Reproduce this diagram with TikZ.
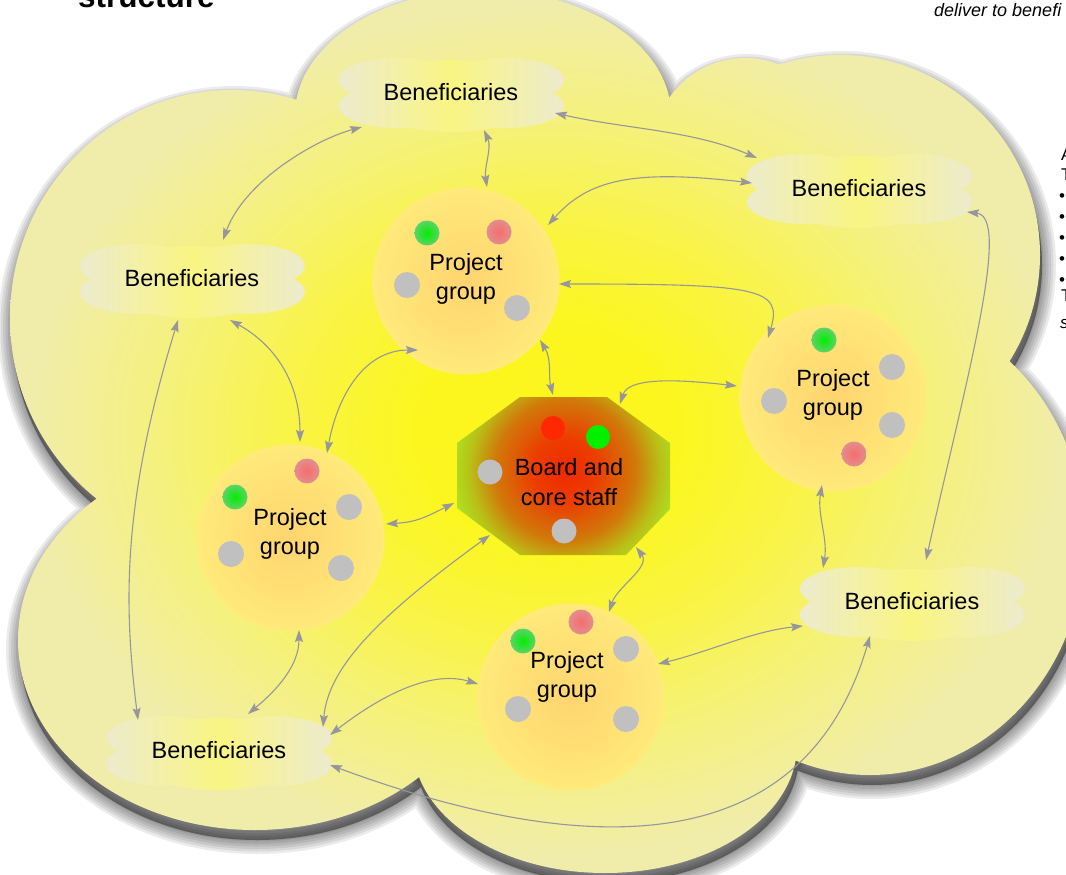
\documentclass[tikz,border=0pt]{standalone}
\usepackage{fontspec}
\setmainfont{Liberation Sans}
\usetikzlibrary{arrows.meta,calc,shapes.geometric}
\definecolor{bgA}{RGB}{252,246,30}
\definecolor{bgA2}{RGB}{249,244,70}
\definecolor{bgB}{RGB}{245,241,125}
\definecolor{bgC}{RGB}{240,237,170}
\definecolor{pgA}{RGB}{255,212,112}
\definecolor{pgB}{RGB}{255,234,122}
\definecolor{bdA}{RGB}{240,40,0}
\definecolor{bdA2}{RGB}{236,62,0}
\definecolor{bdB}{RGB}{208,122,10}
\definecolor{bdB2}{RGB}{186,190,22}
\definecolor{bdC}{RGB}{172,226,34}
\definecolor{bnE}{RGB}{237,235,206}
\definecolor{bnM}{RGB}{249,245,130}
\definecolor{lnC}{RGB}{150,150,156}
\definecolor{dgray}{RGB}{192,192,192}
\definecolor{gnA}{RGB}{0,238,0}
\definecolor{gnB}{RGB}{95,210,105}
\definecolor{pkA}{RGB}{248,108,108}
\definecolor{pkB}{RGB}{226,142,142}
\definecolor{rdF}{RGB}{255,40,0}
\definecolor{grF}{RGB}{0,240,0}
% note: 25bp of a radial shading corresponds to the half size of the shaded path's box
\pgfdeclareradialshading{bgsh}{\pgfpoint{0bp}{0bp}}{color(0bp)=(bgA); color(6bp)=(bgA); color(12bp)=(bgA2); color(18bp)=(bgB); color(24bp)=(bgC); color(50bp)=(bgC)}
\pgfdeclareradialshading{pgsh}{\pgfpoint{0bp}{0bp}}{color(0bp)=(pgA); color(25bp)=(pgB); color(50bp)=(pgB)}
\pgfdeclareradialshading{bdsh}{\pgfpoint{0bp}{0bp}}{color(0bp)=(bdA); color(7bp)=(bdA2); color(15bp)=(bdB); color(20bp)=(bdB2); color(24bp)=(bdC); color(50bp)=(bdC)}
\tikzset{
  bigcloud/.style={insert path={
    (483,115) ellipse [x radius=188, y radius=125]
    (745,150) ellipse [x radius=92, y radius=92]
    (840,255) ellipse [x radius=200, y radius=200]
    (870,540) ellipse [x radius=215, y radius=235]
    (605,745) ellipse [x radius=192, y radius=128]
    (255,640) ellipse [x radius=237, y radius=190]
    (232,318) ellipse [x radius=222, y radius=228]
    (560,440) ellipse [x radius=380, y radius=300]}},
  bcloud/.style={insert path={
    (-55,-12) ellipse [x radius=57, y radius=22]
    (-55,14) ellipse [x radius=57, y radius=22]
    (55,-12) ellipse [x radius=58, y radius=22]
    (55,14) ellipse [x radius=58, y radius=22]
    (0,-10) ellipse [x radius=80, y radius=22]
    (0,12) ellipse [x radius=80, y radius=28]}},
  pgroup/.style={circle, inner sep=0pt, outer sep=0pt, minimum size=187pt, shade, shading=pgsh},
  txt/.style={align=center, inner sep=0pt, text=black, font=\fontsize{23.5}{29.5}\selectfont},
  gdot/.style={circle, inner sep=0pt, minimum size=25pt, inner color=gnA, outer color=gnB},
  pdot/.style={circle, inner sep=0pt, minimum size=25pt, inner color=pkA, outer color=pkB},
  ydot/.style={circle, inner sep=0pt, minimum size=26pt, fill=dgray},
  rdot/.style={circle, inner sep=0pt, minimum size=24pt, fill=rdF},
  fgdot/.style={circle, inner sep=0pt, minimum size=24pt, fill=grF},
  conn/.style={draw=lnC, line width=1.1pt, {Stealth[length=12pt,width=8pt,inset=2pt]}-{Stealth[length=12pt,width=8pt,inset=2pt]}},
  edgetxt/.style={anchor=base west, inner sep=0pt, text=black, font=\fontsize{17}{20}\selectfont}
}
\begin{document}
\begin{tikzpicture}[x=1pt,y=-1pt]
\useasboundingbox (0,0) rectangle (1066,875);
\clip (0,0) rectangle (1066,875);
\fill[white] (0,0) rectangle (1066,875);
% soft shadow of the big cloud
\begin{scope}[shift={(2,10)}]
\foreach \w in {28,23,18,13,8,3} {
  \filldraw[black, opacity=0.08, line width=\w pt, bigcloud];
}
\end{scope}
% big cloud
\shade[shading=bgsh, bigcloud];
% title fragments
\node[anchor=base west, inner sep=0pt, font=\fontsize{31.5}{34}\selectfont\bfseries] (title) at (78,8) {structure};
\node[anchor=base west, inner sep=0pt, font=\fontsize{18}{20}\selectfont\itshape] (sub) at (934,17) {deliver to benefi};
\node[edgetxt] (e1) at (1061,160) {A};
\node[edgetxt] (e2) at (1061,180) {T};
\node[edgetxt] (e3) at (1059,201) {•};
\node[edgetxt] (e4) at (1059,222) {•};
\node[edgetxt] (e5) at (1059,243) {•};
\node[edgetxt] (e6) at (1059,264) {•};
\node[edgetxt] (e7) at (1059,285) {•};
\node[edgetxt] (e8) at (1061,301) {T};
\node[edgetxt, font=\fontsize{17}{20}\selectfont\itshape] (e9) at (1060,328) {s};
% beneficiary clouds
\foreach \cx/\cy in {451/92,859/188,192/278,912/601,219/750} {
  \begin{scope}[shift={(\cx,\cy)}]
    \shade[left color=bnE, right color=bnE, middle color=bnM, bcloud];
  \end{scope}
}
\node[txt] (b1) at (451,92) {Beneficiaries};
\node[txt] (b2) at (859,188) {Beneficiaries};
\node[txt] (b3) at (192,278) {Beneficiaries};
\node[txt] (b4) at (912,601) {Beneficiaries};
\node[txt] (b5) at (219,750) {Beneficiaries};
% project groups
\node[pgroup] (p1) at (466,281) {};
\node[pgroup] (p2) at (833,398) {};
\node[pgroup] (p3) at (291,538) {};
\node[pgroup] (p4) at (571,697) {};
% board
\begin{scope}
\clip (520,397) -- (607,397) -- (670,443) -- (670,509) -- (626,555) -- (520,555) -- (457,508) -- (457,443) -- cycle;
\shade[shading=bdsh] (565,470) circle [radius=118];
\end{scope}
\node[inner sep=0pt, minimum width=213pt, minimum height=158pt] (bd) at (563,476) {};
% dots
\node[gdot] (d11) at (427,233) {};
\node[pdot] (d12) at (499,232) {};
\node[ydot] (d13) at (407,285) {};
\node[ydot] (d14) at (517,308) {};
\node[gdot] (d21) at (824,340) {};
\node[ydot] (d22) at (892,367) {};
\node[ydot] (d23) at (774,401) {};
\node[ydot] (d24) at (892,425) {};
\node[pdot] (d25) at (854,454) {};
\node[pdot] (d31) at (307,471) {};
\node[gdot] (d32) at (235,497) {};
\node[ydot] (d33) at (349,507) {};
\node[ydot] (d34) at (231,554) {};
\node[ydot] (d35) at (341,568) {};
\node[pdot] (d41) at (581,622) {};
\node[gdot] (d42) at (523,641) {};
\node[ydot] (d43) at (626,649) {};
\node[ydot] (d44) at (518,709) {};
\node[ydot] (d45) at (626,719) {};
\node[rdot] (d51) at (553,428) {};
\node[fgdot] (d52) at (598,437) {};
\node[ydot, minimum size=25pt] (d53) at (490,472) {};
\node[ydot, minimum size=25pt] (d54) at (564,531) {};
% texts
\node[txt] (p1t) at (466,279) {Project\\group};
\node[txt] (p2t) at (833,395) {Project\\group};
\node[txt] (p3t) at (290,534) {Project\\group};
\node[txt] (p4t) at (567,677) {Project\\group};
\node[txt] (bdt) at (569,482) {Board and\\core staff};
% connectors
\draw[conn] ($(b3)+(31,-38)$) .. controls +(22,-60) and +(-45,12) .. ($(b1)+(-89,35)$);
\draw[conn] ($(b1)+(104,21)$) .. controls +(70,16) and +(-65,-28) .. ($(b2)+(-102,-30)$);
\draw[conn] ($(b1)+(33,38)$) .. controls +(8,18) and +(-3,-20) .. ($(p1)+(21,-94)$);
\draw[conn] ($(b2)+(-107,-5)$) .. controls +(-120,-14) and +(40,-45) .. ($(p1)+(82,-56)$);
\draw[conn] ($(b2)+(108,24)$) .. controls +(45,5) and +(40,-180) .. ($(b4)+(14,-41)$);
\draw[conn] ($(p1)+(93,3)$) .. controls +(200,0) and +(15,-50) .. ($(p2)+(-65,-60)$);
\draw[conn] ($(p1)+(74,59)$) .. controls +(12,20) and +(-5,-20) .. ($(bd)+(-10,-81)$);
\draw[conn] ($(bd)+(57,-72)$) .. controls +(8,-25) and +(-70,-8) .. ($(p2)+(-96,-12)$);
\draw[conn] ($(b3)+(38,42)$) .. controls +(45,25) and +(0,-60) .. ($(p3)+(9,-96)$);
\draw[conn] ($(b3)+(-14,42)$) .. controls +(-55,180) and +(-15,-120) .. ($(b5)+(-81,-30)$);
\draw[conn] ($(p1)+(-48,69)$) .. controls +(-55,0) and +(10,-55) .. ($(p3)+(36,-85)$);
\draw[conn] ($(p3)+(95,-14)$) .. controls +(30,-2) and +(-30,15) .. ($(bd)+(-109,27)$);
\draw[conn] ($(p3)+(8,92)$) .. controls +(0,35) and +(30,-25) .. ($(b5)+(29,-36)$);
\draw[conn] ($(bd)+(73,71)$) .. controls +(15,20) and +(8,-25) .. ($(p4)+(38,-85)$);
\draw[conn] ($(bd)+(-73,59)$) .. controls +(-110,80) and +(5,-60) .. ($(b5)+(104,-23)$);
\draw[conn] ($(p4)+(-93,-13)$) .. controls +(-50,-15) and +(45,-35) .. ($(b5)+(111,-15)$);
\draw[conn] ($(p4)+(87,-33)$) .. controls +(50,-12) and +(-50,5) .. ($(b4)+(-109,25)$);
\draw[conn] ($(b4)+(-42,35)$) .. controls +(-70,240) and +(230,85) .. ($(b5)+(111,15)$);
\draw[conn] ($(p2)+(-11,87)$) .. controls +(-5,30) and +(5,-30) .. ($(b4)+(-89,-33)$);
\end{tikzpicture}
\end{document}
